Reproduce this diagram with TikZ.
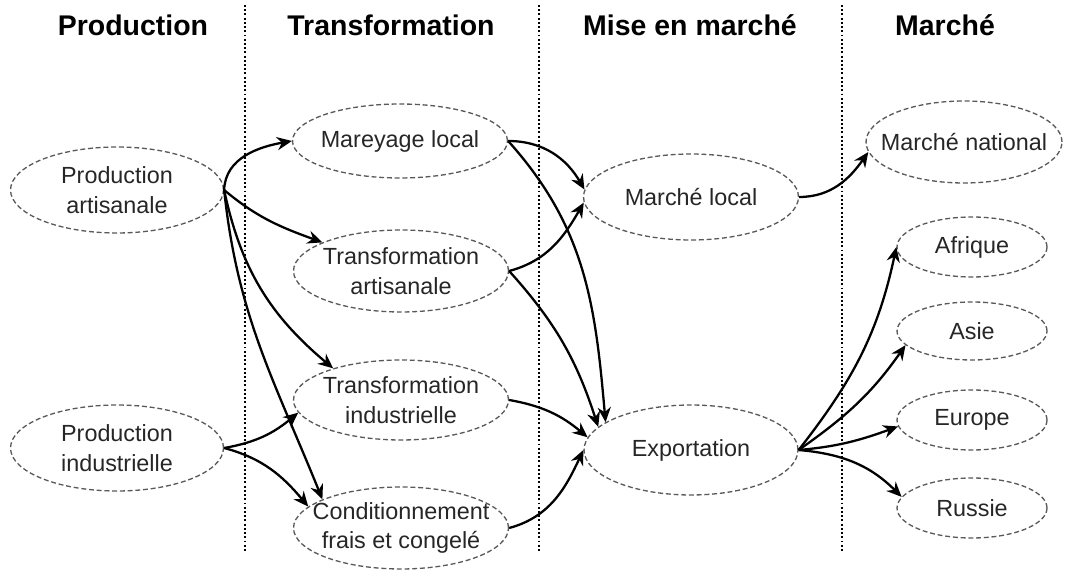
\documentclass[tikz,border=0pt]{standalone}
\usepackage{fontspec}
\setmainfont{Liberation Sans}
\usetikzlibrary{shapes.geometric,arrows.meta}

\begin{document}
\begin{tikzpicture}[x=0.02cm,y=-0.02cm,
  etape/.style={ellipse,draw=black!65,line width=0.75pt,dash pattern=on 2.8pt off 1.6pt,inner xsep=-3cm,inner ysep=-2cm,minimum width=4.3cm,minimum height=1.64cm,align=center,text=black!85,font=\fontsize{13.3}{17}\selectfont},
  marche/.style={etape,minimum width=3cm,minimum height=1.2cm},
  titre/.style={anchor=base,font=\fontsize{16.2}{19}\selectfont\bfseries},
  fleche/.style={-{Stealth[length=8.5pt,width=7.5pt,inset=2.8pt]},line width=1.3pt},
  limite/.style={line width=1.1pt,dash pattern=on 1.1pt off 1.3pt}]
\useasboundingbox (0,0) rectangle (1068,570);
\foreach \x in {245,539,842} \draw[limite] (\x,5) -- (\x,553);
\node[titre] (tprod) at (133,36) {Production};
\node[titre] (ttrans) at (391,36) {Transformation};
\node[titre] (tmise) at (690,36) {Mise en marché};
\node[titre] (tmarche) at (945,36) {Marché};
\node[etape,minimum width=4.26cm,minimum height=1.72cm] (pa) at (117,190) {Production\\artisanale};
\node[etape,minimum width=4.26cm,minimum height=1.72cm] (pi) at (117,448) {Production\\industrielle};
\node[etape,minimum height=1.48cm] (mar) at (400,141) {Mareyage local};
\node[etape] (tra) at (401,271) {Transformation\\artisanale};
\node[etape,minimum height=1.6cm] (tri) at (401,400) {Transformation\\industrielle};
\node[etape] (cfc) at (401,528) {Conditionnement\\frais et congelé};
\node[etape,minimum height=1.72cm] (mlo) at (691,197) {Marché local};
\node[etape,minimum width=4.28cm,minimum height=1.8cm] (exp) at (691,450) {Exportation};
\node[etape,minimum width=3.92cm] (mna) at (964,142) {Marché national};
\node[marche] (afr) at (972,247) {Afrique};
\node[marche,minimum height=1.16cm] (asi) at (972,331) {Asie};
\node[marche] (eur) at (972,420) {Europe};
\node[marche] (rus) at (972,508) {Russie};
% production -> transformation
\draw[fleche] (pa.east) to[out=88,in=190] (mar.west);
\draw[fleche] (pa.east) to[out=-40,in=160] (tra.160);
\draw[fleche] (pa.east) to[out=-78,in=140] (tri.155);
\draw[fleche] (pa.east) to[out=-84,in=112] (cfc.160);
\draw[fleche] (pi.east) to[out=10,in=220] (tri.187);
\draw[fleche] (pi.east) to[out=-15,in=130] (cfc.167);
% transformation -> mise en marche
\draw[fleche] (mar.east) to[out=0,in=120] (mlo.176);
\draw[fleche] (mar.east) to[out=-48,in=95] (exp.162);
\draw[fleche] (tra.east) to[out=15,in=240] (mlo.183);
\draw[fleche] (tra.east) to[out=-48,in=108] (exp.166);
\draw[fleche] (tri.east) to[out=-10,in=140] (exp.173);
\draw[fleche] (cfc.east) to[out=15,in=245] (exp.west);
% mise en marche -> marche
\draw[fleche] (mlo.east) to[out=0,in=235] (mna.186);
\draw[fleche] (exp.east) to[out=52,in=258] (afr.west);
\draw[fleche] (exp.east) to[out=35,in=235] (asi.192);
\draw[fleche] (exp.east) to[out=5,in=200] (eur.185);
\draw[fleche] (exp.east) to[out=-5,in=135] (rus.171);
\end{tikzpicture}
\end{document}
